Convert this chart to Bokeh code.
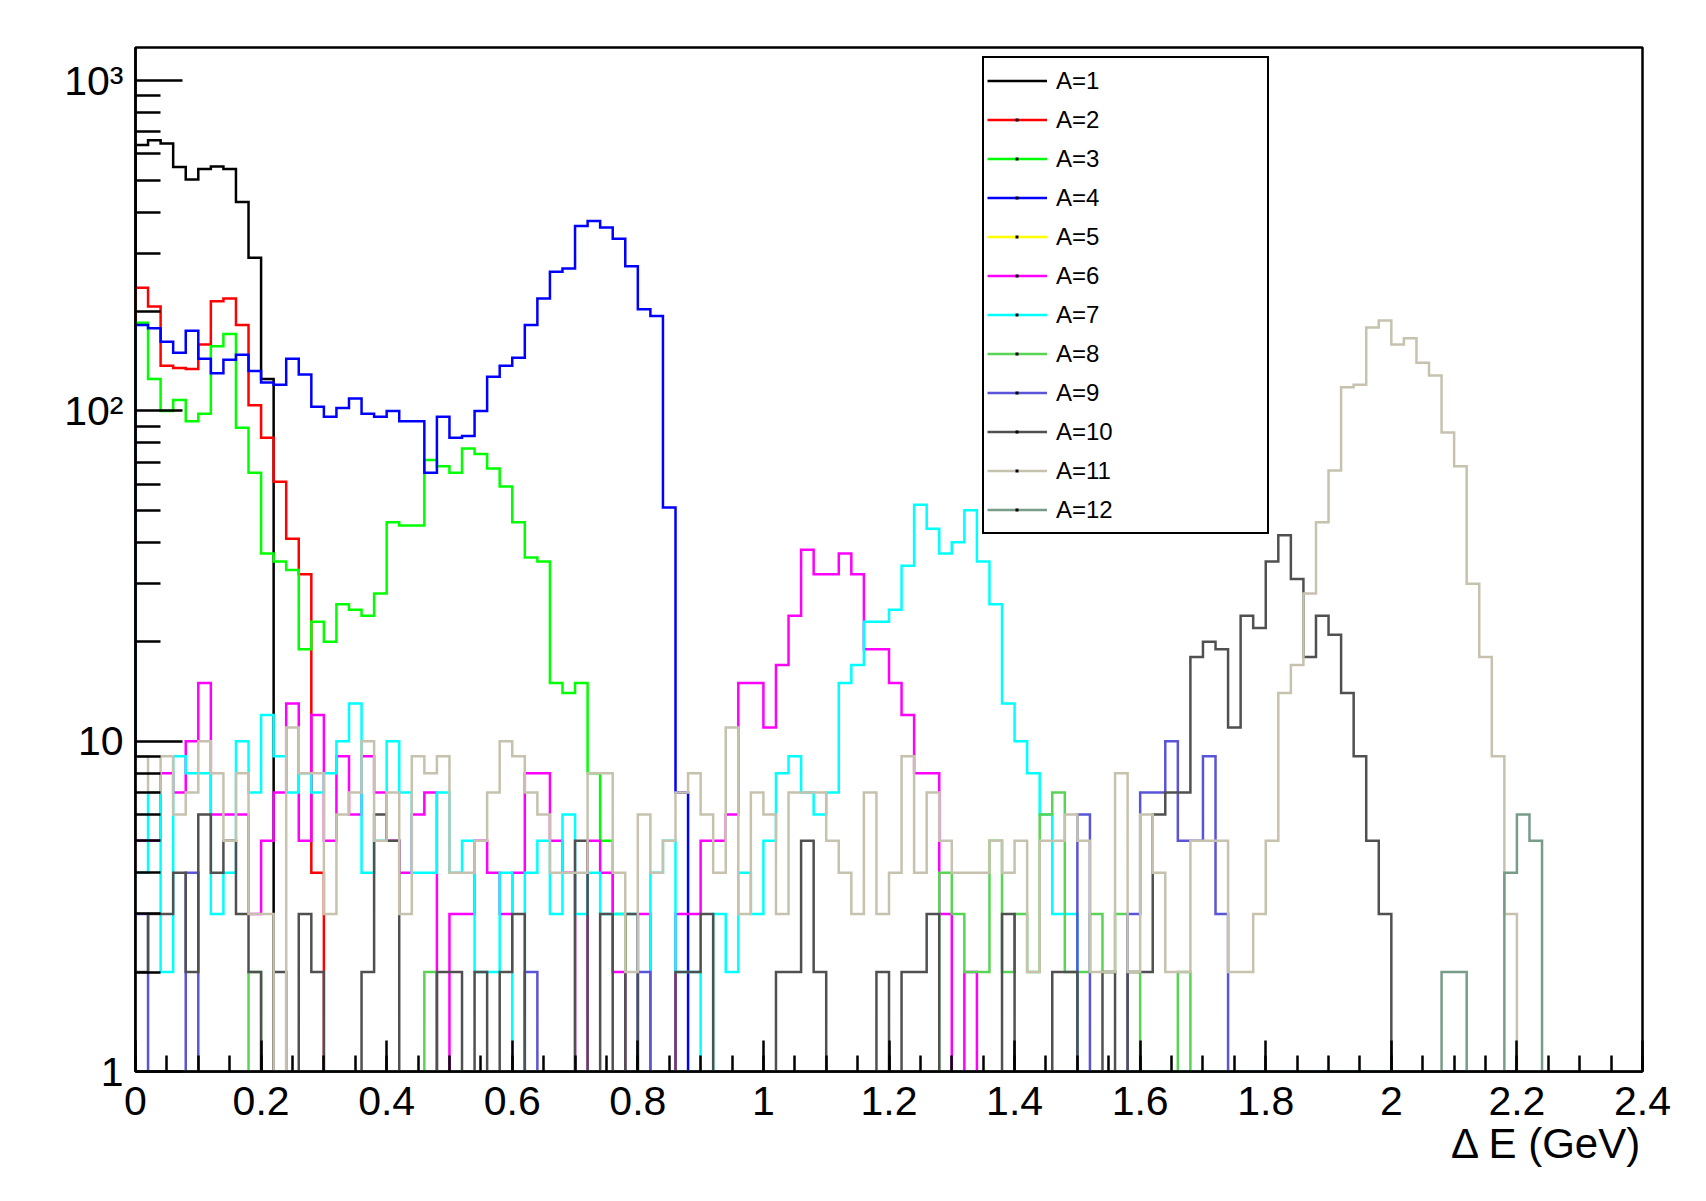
import numpy as np
from bokeh.plotting import figure
from bokeh.models import Range1d, FixedTicker, Legend, LegendItem, Title
from bokeh.embed import file_html
from bokeh.resources import INLINE

# ---------------- data (counts per 0.02 GeV bin, 120 bins from 0 to 2.4 GeV) ----------------
N_BINS = 120
X_LO, X_HI = 0.0, 2.4
Y_LO, Y_HI = 1.0, 1260.0

series_names = ["A=1", "A=2", "A=3", "A=4", "A=5", "A=6",
                "A=7", "A=8", "A=9", "A=10", "A=11", "A=12"]
series_colors = ["#000000", "#ff0000", "#00ff00", "#0000ff", "#ffff00", "#ff00ff",
                 "#00ffff", "#59d454", "#5954d8", "#505050", "#c6c2ae", "#779c88"]

A1 = [638, 660, 645, 548, 502, 540, 550, 540, 429, 291, 125] + [0] * 109

A2 = [236, 207, 137, 135, 134, 159, 215, 219, 182, 104, 83, 61, 41, 32, 4] + [0] * 105

A3 = [185, 125, 100, 108, 93, 98, 157, 171, 89, 65,
      37, 35, 33, 19, 23, 20, 26, 25, 24, 28,
      46, 45, 45, 71, 68, 65, 77, 74, 67, 59,
      46, 36, 35, 15, 14, 15, 8, 5, 3] + [0] * 81

A4 = [182, 178, 162, 150, 175, 144, 130, 143, 148, 132,
      122, 120, 144, 129, 103, 96, 102, 109, 98, 96,
      100, 93, 93, 65, 96, 83, 84, 100, 127, 137,
      145, 182, 219, 264, 270, 363, 376, 359, 332, 274,
      203, 194, 51, 7] + [0] * 76

A5 = [0] * 120

A6 = [5, 5, 8, 7, 10, 15, 6, 6, 6, 3,
      5, 7, 13, 5, 12, 5, 9, 6, 9, 7,
      5, 4, 6, 7, 0, 3, 3, 5, 4, 3,
      4, 8, 8, 5, 4, 0, 5, 4, 2, 0,
      3, 0, 0, 3, 3, 5, 5, 6, 15, 15,
      11, 17, 24, 38, 32, 32, 37, 32, 19, 19,
      15, 12, 8, 8, 3, 0, 2] + [0] * 53

A7 = [4, 7, 2, 9, 8, 8, 3, 4, 10, 7,
      12, 9, 7, 8, 7, 8, 10, 13, 4, 5,
      10, 7, 4, 4, 7, 4, 5, 2, 2, 4,
      0, 4, 5, 3, 6, 3, 4, 3, 3, 3,
      0, 4, 5, 2, 2, 0, 3, 2, 4, 3,
      5, 8, 9, 7, 6, 7, 15, 17, 23, 23,
      25, 34, 52, 44, 37, 40, 50, 35, 26, 13,
      10, 8, 6, 3, 3] + [0] * 45

A8 = ([0, 0, 0, 0, 0, 0, 0, 0, 0, 2, 0, 0, 0, 0, 0, 0, 0, 0, 0, 0,
       0, 0, 0, 2, 0, 0, 0, 0, 0, 0, 0, 0, 0, 0, 0, 0, 0, 0, 0, 0]
      + [0] * 20
      + [0, 0, 0, 0, 4, 3, 2, 2, 5, 2, 3, 2, 6, 7, 2, 2, 3, 2, 3, 2,
         0, 0, 0, 2, 0, 0, 0, 0, 0, 0, 0, 0, 0, 0, 0, 0, 0, 0, 0, 0]
      + [0] * 20)

A9 = ([3, 0, 0, 0, 4, 0, 0, 0, 0, 0, 0, 0, 0, 0, 0, 0, 0, 0, 0, 0,
       0, 0, 0, 0, 0, 0, 0, 0, 0, 0, 0, 2, 0, 0, 0, 0, 0, 0, 0, 0,
       2, 0, 0, 0, 0, 0, 0, 0, 0, 0, 0, 0, 0, 0, 0, 0, 0, 0, 0, 0,
       0, 0, 0, 0, 0, 0, 0, 0, 0, 0, 0, 0, 0, 0, 0, 6, 0, 0, 0, 3,
       7, 7, 10, 5, 5, 9, 3, 0, 0, 0, 0, 0, 0, 0, 0, 0, 0, 0, 0, 0]
      + [0] * 20)

A10 = [2, 3, 3, 4, 2, 6, 4, 5, 3, 2,
       0, 2, 0, 3, 2, 0, 0, 0, 2, 6,
       5, 0, 0, 0, 2, 2, 0, 2, 0, 2,
       3, 0, 0, 0, 0, 5, 0, 3, 0, 3,
       0, 0, 0, 2, 2, 3, 0, 0, 0, 0,
       0, 2, 2, 5, 2, 0, 0, 0, 0, 2,
       0, 2, 2, 3, 0, 0, 0, 0, 0, 3,
       0, 0, 0, 2, 2, 0, 0, 2, 0, 2,
       2, 6, 7, 7, 18, 20, 19, 11, 24, 22,
       35, 42, 31, 18, 24, 21, 14, 9, 5, 3] + [0] * 20

A11 = [9, 7, 9, 6, 7, 10, 8, 5, 8, 3,
       3, 0, 11, 8, 8, 3, 6, 7, 10, 5,
       7, 3, 9, 8, 9, 4, 4, 5, 7, 10,
       9, 7, 6, 4, 4, 4, 8, 8, 4, 2,
       6, 4, 5, 7, 8, 6, 4, 11, 3, 7,
       6, 3, 7, 7, 7, 5, 4, 3, 7, 3,
       4, 9, 4, 7, 5, 4, 4, 4, 5, 4,
       5, 2, 5, 5, 6, 5, 2, 2, 8, 2,
       6, 4, 2, 2, 5, 5, 5, 2, 2, 3,
       5, 14, 17, 28, 46, 66, 118, 120, 179, 188,
       159, 166, 140, 128, 86, 68, 30, 18, 9, 3] + [0] * 10

A12 = [0] * 104 + [2, 2, 0, 0, 0, 4, 6, 5] + [0] * 8

counts = [A1, A2, A3, A4, A5, A6, A7, A8, A9, A10, A11, A12]

x_ticks = [0.0, 0.2, 0.4, 0.6, 0.8, 1.0, 1.2, 1.4, 1.6, 1.8, 2.0, 2.2, 2.4]
x_tick_labels = ["0", "0.2", "0.4", "0.6", "0.8", "1", "1.2", "1.4", "1.6", "1.8", "2", "2.2", "2.4"]
y_ticks = [1, 10, 100, 1000]
y_tick_labels = ["1", "10", "10\u00b2", "10\u00b3"]
x_title = "\u0394 E (GeV)"

# ---------------- figure ----------------
FONT = "Liberation Sans"
p = figure(width=1706, height=1201, output_backend="svg", toolbar_location=None,
           x_range=Range1d(X_LO, X_HI), y_range=Range1d(Y_LO, Y_HI), y_axis_type="log",
           min_border_left=135, min_border_right=64, min_border_top=47, min_border_bottom=130,
           background_fill_color="white", border_fill_color="white")
p.xgrid.visible = False
p.ygrid.visible = False
p.outline_line_color = "black"
p.outline_line_width = 2.5

edges = np.linspace(X_LO, X_HI, N_BINS + 1)
items = []
for name, col, vals in zip(series_names, series_colors, counts):
    v = np.maximum(np.asarray(vals, dtype=float), Y_LO)
    xs = np.repeat(edges, 2)
    ys = np.concatenate([[Y_LO], np.repeat(v, 2), [Y_LO]])
    r = p.line(xs, ys, line_color=col, line_width=2.5, line_join="miter")
    rs = [r]
    if name != "A=1":
        # tiny black marker in the middle of the legend sample (kept outside the frame)
        d = p.line([-1.0, -0.9], [0.5, 0.5], line_color="black", line_width=3,
                   line_dash="0 28 3 100")
        rs.append(d)
    items.append(LegendItem(label=name, renderers=rs))

legend = Legend(items=items, location=(847, 537), padding=3, spacing=0,
                glyph_width=60, glyph_height=39, label_height=39, label_width=208,
                label_standoff=9, label_text_font=FONT, label_text_font_size="24px",
                label_text_color="black", border_line_color="black", border_line_width=2.5,
                border_line_alpha=1.0,
                background_fill_color="white", background_fill_alpha=1.0, margin=0)
p.add_layout(legend)

# axes
xa = p.xaxis[0]
xa.ticker = FixedTicker(ticks=x_ticks,
                        minor_ticks=[round(0.05 * k, 2) for k in range(49)])
xa.major_label_overrides = {t: s for t, s in zip(x_ticks, x_tick_labels)}
xa.major_tick_in = 31
xa.major_tick_out = 0
xa.minor_tick_in = 16
xa.minor_tick_out = 0
xa.major_label_standoff = 15

ya = p.yaxis[0]
ya.ticker = FixedTicker(ticks=y_ticks,
                        minor_ticks=[m * 10 ** e for e in range(3) for m in range(2, 10)])
ya.major_label_overrides = {t: s for t, s in zip(y_ticks, y_tick_labels)}
ya.major_tick_in = 47
ya.major_tick_out = 0
ya.minor_tick_in = 25
ya.minor_tick_out = 0
ya.major_label_standoff = 12

for ax in (xa, ya):
    ax.axis_line_color = "black"
    ax.axis_line_width = 2.5
    ax.major_tick_line_color = "black"
    ax.major_tick_line_width = 2.5
    ax.minor_tick_line_color = "black"
    ax.minor_tick_line_width = 2.5
    ax.major_label_text_font = FONT
    ax.major_label_text_font_size = "41px"
    ax.major_label_text_color = "black"

# x axis title, right aligned under the tick labels
p.add_layout(Title(text=x_title, align="right", text_font=FONT, text_font_size="42px",
                   text_font_style="normal", text_color="black", standoff=0, offset=0),
             "below")

open("out.html", "w").write(file_html(p, INLINE))
